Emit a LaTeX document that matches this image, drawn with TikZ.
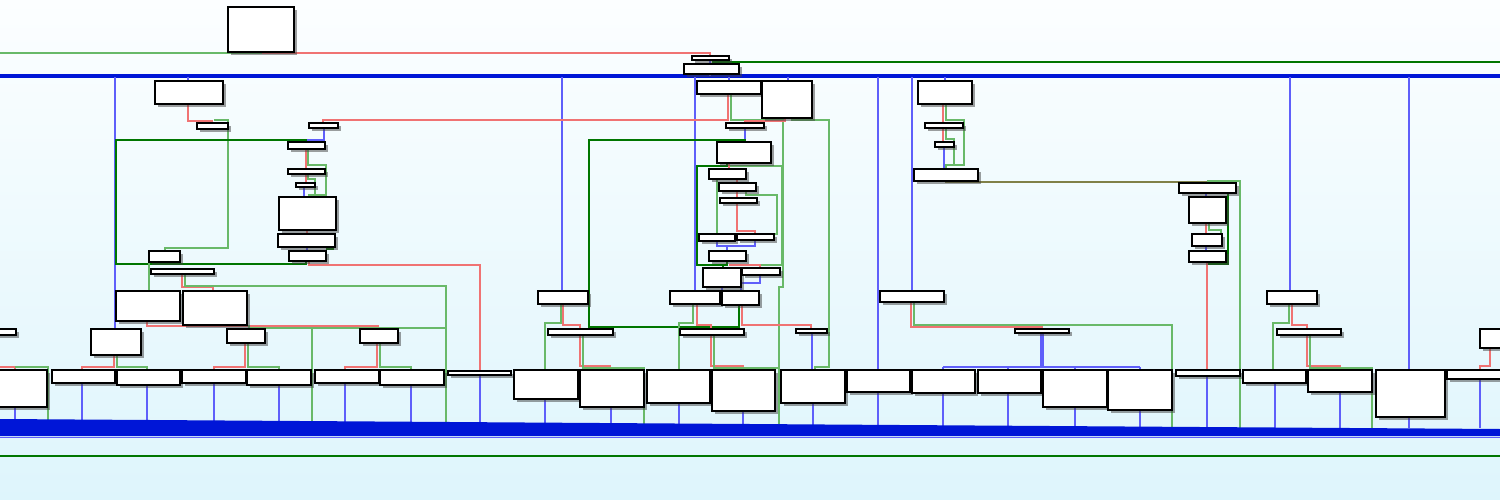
\documentclass[tikz,border=0pt]{standalone}
\usetikzlibrary{shadows}
\definecolor{bgTop}{RGB}{252,254,255}
\definecolor{bgBot}{RGB}{222,245,252}
\definecolor{cBlue}{RGB}{95,95,250}
\definecolor{cBus}{RGB}{0,22,215}
\definecolor{cGreen}{RGB}{105,185,105}
\definecolor{cDGreen}{RGB}{0,118,0}
\definecolor{cRed}{RGB}{240,115,115}
\definecolor{cOlive}{RGB}{128,128,72}
\pgfdeclarelayer{back}
\pgfdeclarelayer{edges}
\pgfsetlayers{back,edges,main}
\newcommand\bx[5]{\node[blk,minimum width=#4pt-#2pt,minimum height=#5pt-#3pt] (#1) at ({(#2+#4)/2},{(#3+#5)/2}) {};}
\begin{document}
\begin{tikzpicture}[x=1pt,y=-1pt,
  blk/.style={draw=black,line width=1.6pt,fill=white,inner sep=0pt,outer sep=0pt,
    drop shadow={shadow xshift=2.8pt,shadow yshift=-2.8pt,opacity=0.5,fill=black!75}},
  bl/.style={draw=cBlue,line width=2.1pt},
  gr/.style={draw=cGreen,line width=2.1pt},
  dg/.style={draw=cDGreen,line width=2.8pt},
  rd/.style={draw=cRed,line width=2.1pt},
  ol/.style={draw=cOlive,line width=2.1pt}]
\useasboundingbox (0,0) rectangle (1500,500);
\begin{pgfonlayer}{back}
\shade[top color=bgTop,bottom color=bgBot] (0,0) rectangle (1500,500);
\end{pgfonlayer}

% ---------- boxes: left group ----------
\bx{a0}{228}{7}{294}{52}
\bx{a1}{155}{81}{223}{104}
\bx{a2}{197}{123}{228}{129}
\bx{a3}{309}{123}{338}{128}
\bx{a4}{288}{142}{325}{149}
\bx{a5}{288}{169}{325}{174}
\bx{a6}{296}{183}{315}{187}
\bx{a7}{279}{197}{336}{230}
\bx{a8}{278}{234}{335}{247}
\bx{a9}{289}{251}{326}{261}
\bx{a10}{149}{251}{180}{262}
\bx{a11}{151}{269}{214}{274}
\bx{a12}{116}{291}{180}{321}
\bx{a13}{183}{291}{247}{325}
\bx{a14}{91}{329}{141}{355}
\bx{a15}{227}{329}{265}{343}
\bx{a16}{360}{329}{398}{343}
\bx{a17}{-5}{329}{16}{335}
\bx{l0}{-5}{370}{47}{407}
\bx{l1}{52}{370}{115}{383}
\bx{l2}{117}{370}{180}{385}
\bx{l3}{182}{370}{246}{383}
\bx{l4}{247}{370}{311}{385}
\bx{l5}{315}{370}{379}{383}
\bx{l6}{380}{370}{444}{385}
\bx{l7}{448}{371}{511}{375}
% ---------- boxes: middle group ----------
\bx{m1}{692}{56}{729}{60}
\bx{m2}{684}{64}{739}{74}
\bx{m3}{697}{81}{761}{94}
\bx{m4}{762}{81}{812}{118}
\bx{m5}{726}{123}{764}{128}
\bx{m6}{717}{142}{771}{163}
\bx{m7}{709}{169}{746}{179}
\bx{m8}{719}{183}{756}{191}
\bx{m9}{720}{198}{757}{203}
\bx{m10}{699}{234}{735}{241}
\bx{m11}{737}{234}{774}{240}
\bx{m12}{709}{251}{746}{261}
\bx{m13}{703}{268}{741}{287}
\bx{m14}{742}{268}{780}{275}
\bx{m15}{670}{291}{720}{304}
\bx{m16}{722}{291}{759}{305}
\bx{m17}{538}{291}{588}{304}
\bx{m18}{548}{329}{613}{335}
\bx{m19}{680}{329}{744}{335}
\bx{m20}{796}{329}{827}{333}
\bx{r0}{514}{370}{578}{399}
\bx{r1}{580}{370}{644}{407}
\bx{r2}{647}{370}{710}{403}
\bx{r3}{712}{370}{775}{411}
\bx{r4}{781}{370}{845}{403}
\bx{r5}{847}{370}{910}{392}
\bx{r6}{912}{370}{975}{393}
\bx{r7}{978}{370}{1041}{393}
\bx{r8}{1043}{370}{1107}{407}
\bx{r9}{1108}{370}{1172}{410}
\bx{r10}{1176}{370}{1240}{376}
\bx{r11}{1243}{370}{1306}{383}
\bx{r12}{1308}{370}{1372}{392}
\bx{r13}{1376}{370}{1445}{417}
\bx{r14}{1447}{370}{1510}{379}
% ---------- boxes: right group ----------
\bx{n1}{918}{81}{972}{104}
\bx{n2}{925}{123}{963}{128}
\bx{n3}{935}{142}{954}{147}
\bx{n4}{914}{169}{978}{181}
\bx{n5}{880}{291}{944}{302}
\bx{n6}{1015}{329}{1069}{333}
\bx{p1}{1179}{183}{1236}{193}
\bx{p2}{1189}{197}{1226}{223}
\bx{p3}{1192}{234}{1222}{246}
\bx{p4}{1189}{251}{1226}{262}
\bx{q1}{1267}{291}{1317}{304}
\bx{q2}{1277}{329}{1341}{335}
\bx{q3}{1480}{329}{1510}{348}

\begin{pgfonlayer}{edges}
% ---------- top ----------
\draw[gr] (262,52)--(262,53)--(0,53);
\draw[rd] (262,53)--(710,53)--(710,56);
\draw[bl] (710,60)--(710,64);
\draw[dg] (713,60)--(713,62)--(1500,62);
\draw[cBus,line width=4.5pt] (0,76)--(1500,76);
\draw[bl] (710,74)--(710,76);
\foreach \x/\y in {115/329,188/81,562/291,695/291,729/81,788/81,878/370,912/291,945/81,1290/291,1409/370}
  \draw[bl] (\x,77)--(\x,\y);
% ---------- left group ----------
\draw[rd] (188,104)--(188,121)--(212,121)--(212,123);
\draw[gr] (214,120)--(228,120)--(228,248)--(165,248)--(165,251);
\draw[rd] (728,94)--(728,120)--(323,120)--(323,123);
\draw[bl] (324,128)--(324,140)--(308,140)--(308,142);
\draw[dg] (306,261)--(306,264)--(116,264)--(116,140)--(306,140)--(306,142);
\draw[rd] (306,149)--(306,169);
\draw[gr] (308,149)--(308,165)--(326,165)--(326,195)--(308,195);
\draw[rd] (306,174)--(306,183);
\draw[gr] (308,174)--(308,179)--(315,179)--(315,195);
\draw[bl] (304,187)--(304,197);
\draw[rd] (307,230)--(307,234);
\draw[dg] (333,234)--(333,249)--(326,249);
\draw[bl] (307,247)--(307,251);
\draw[rd] (309,261)--(309,265)--(480,265)--(480,371);
\draw[gr] (149,262)--(149,291);
\draw[rd] (182,274)--(182,287)--(213,287)--(213,291);
\draw[gr] (185,274)--(185,286)--(446,286)--(446,424);
\draw[rd] (147,321)--(147,326)--(378,326)--(378,329);
\draw[gr] (249,325)--(249,328)--(446,328);
\draw[gr] (312,328)--(312,424);
\draw[rd] (114,355)--(114,367)--(82,367)--(82,370);
\draw[gr] (117,355)--(117,367)--(147,367)--(147,370);
\draw[rd] (245,343)--(245,367)--(214,367)--(214,370);
\draw[gr] (248,343)--(248,367)--(279,367)--(279,370);
\draw[rd] (377,343)--(377,367)--(345,367)--(345,370);
\draw[gr] (380,343)--(380,367)--(411,367)--(411,370);
\draw[rd] (0,367)--(15,367)--(15,370);
\draw[gr] (15,367)--(48,367)--(48,424);
% ---------- middle group ----------
\draw[gr] (731,94)--(731,120)--(783,120)--(783,287)--(779,287)--(779,426);
\draw[gr] (792,118)--(792,120)--(829,120)--(829,367)--(815,367)--(815,370);
\draw[rd] (785,118)--(785,121)--(745,121)--(745,123);
\draw[bl] (745,128)--(745,142);
\draw[dg] (745,142)--(745,140)--(589,140)--(589,327)--(739,327)--(739,305);
\draw[gr] (729,166)--(782,166)--(782,265)--(760,265);
\draw[dg] (727,163)--(727,166)--(697,166)--(697,265)--(727,265)--(727,261);
\draw[rd] (729,163)--(729,169);
\draw[rd] (737,179)--(737,183);
\draw[gr] (720,179)--(717,179)--(717,234);
\draw[rd] (737,191)--(737,198);
\draw[gr] (746,191)--(746,195)--(777,195)--(777,234)--(760,234);
\draw[rd] (737,203)--(737,231)--(755,231)--(755,234);
\draw[bl] (717,241)--(717,246)--(755,246)--(755,240);
\draw[bl] (727,246)--(727,251);
\draw[rd] (729,265)--(760,265)--(760,268);
\draw[dg] (723,265)--(723,268);
\draw[bl] (760,275)--(760,283)--(741,283)--(741,291);
\draw[bl] (722,287)--(722,291);
\draw[rd] (697,304)--(697,325)--(711,325)--(711,329);
\draw[gr] (693,304)--(693,323)--(679,323)--(679,370);
\draw[rd] (742,305)--(742,325)--(811,325)--(811,329);
\draw[bl] (812,333)--(812,370);
\draw[rd] (563,304)--(563,325)--(580,325)--(580,329);
\draw[gr] (561,304)--(561,323)--(545,323)--(545,370);
\draw[rd] (580,335)--(580,366)--(610,366)--(610,370);
\draw[gr] (583,335)--(583,368)--(644,368)--(644,426);
\draw[rd] (711,335)--(711,366)--(743,366)--(743,370);
\draw[gr] (714,335)--(714,368)--(779,368);
% ---------- right group ----------
\draw[rd] (943,104)--(943,123);
\draw[gr] (946,104)--(946,120)--(964,120)--(964,165)--(946,165)--(946,169);
\draw[rd] (943,128)--(943,142);
\draw[gr] (946,128)--(946,139)--(954,139)--(954,165);
\draw[bl] (944,147)--(944,169);
\draw[ol] (946,181)--(946,182)--(1207,182)--(1207,183);
\draw[gr] (1207,181)--(1240,181)--(1240,430);
\draw[bl] (1206,193)--(1206,197);
\draw[dg] (1220,193)--(1228,193)--(1228,264)--(1207,264);
\draw[rd] (1206,223)--(1206,234);
\draw[gr] (1209,223)--(1209,230)--(1221,230)--(1221,234);
\draw[bl] (1206,246)--(1206,251);
\draw[rd] (1207,262)--(1207,370);
\draw[gr] (1208,430)--(1240,430);
\draw[rd] (911,302)--(911,327)--(1042,327)--(1042,329);
\draw[gr] (914,302)--(914,325)--(1172,325)--(1172,430);
\draw[cBlue,line width=4.5pt] (1042,333)--(1042,367);
\draw[bl] (943,367)--(1140,367);
\foreach \x in {943,1008,1075,1140} \draw[bl] (\x,367)--(\x,370);
\draw[rd] (1292,304)--(1292,325)--(1307,325)--(1307,329);
\draw[gr] (1289,304)--(1289,323)--(1273,323)--(1273,370);
\draw[rd] (1307,335)--(1307,366)--(1340,366)--(1340,370);
\draw[gr] (1310,335)--(1310,368)--(1372,368)--(1372,430);
\draw[rd] (1490,348)--(1490,366)--(1480,366)--(1480,370);
% ---------- drops to the lower bus ----------
\foreach \x/\y in {15/407,82/383,147/385,214/383,279/385,345/383,411/385,480/375,
  545/399,611/407,679/403,743/411,813/403,878/392,943/393,1008/393,1075/407,1140/410,
  1207/376,1275/383,1340/392,1409/417,1480/379}
  \draw[bl] (\x,\y)--(\x,428);
\fill[cBus] (0,419)--(1500,429)--(1500,436)--(0,436)--cycle;
\draw[cBlue,line width=1pt] (0,437)--(1500,437);
\draw[dg] (0,456)--(1500,456);
\end{pgfonlayer}
\end{tikzpicture}
\end{document}
